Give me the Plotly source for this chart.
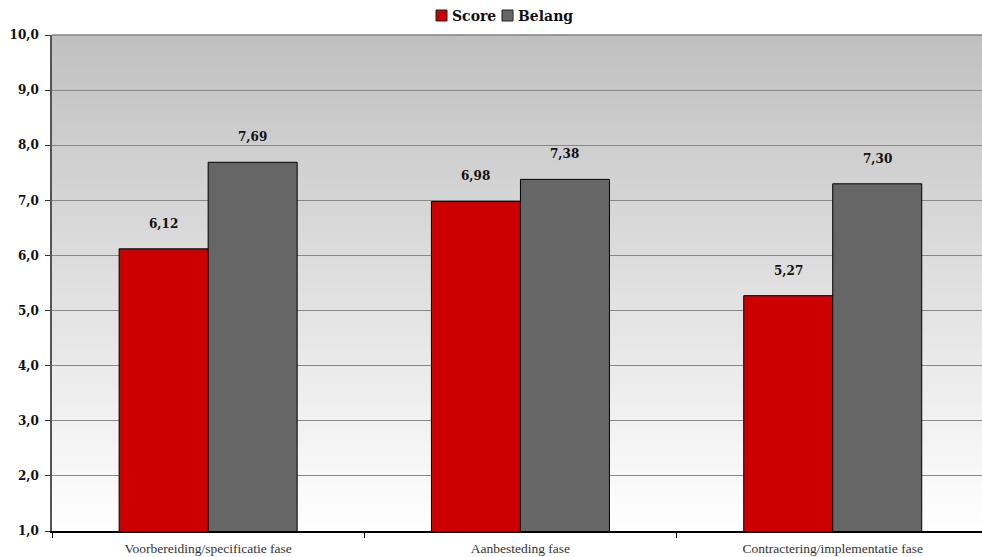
import plotly.graph_objects as go

# Phase scores vs. importance
phases = ["Voorbereiding/specificatie fase", "Aanbesteding fase", "Contractering/implementatie fase"]
score = [6.12, 6.98, 5.27]
belang = [7.69, 7.38, 7.30]
series_names = ["Score", "Belang"]
series_colors = ["#cc0000", "#666666"]

BOLD = "DejaVu Serif"
PLAIN = "Liberation Serif"

W, H = 982, 557
ML, MR, MT, MB = 52, 0, 35, 26
PW, PH = W - ML - MR, H - MT - MB


def px_to_paper(px, py):
    return (px - ML) / PW, (H - MB - py) / PH


fig = go.Figure()
for name, vals, col in zip(series_names, [score, belang], series_colors):
    fig.add_trace(go.Bar(
        x=phases, y=vals, name=name,
        marker=dict(color=col, line=dict(color="#000000", width=1)),
        hoverinfo="x+y", showlegend=False,
    ))

# value labels above each bar
bar_half = 44.5
for i, ph in enumerate(phases):
    for vals, shift in ((score, -bar_half), (belang, bar_half)):
        fig.add_annotation(
            x=ph, y=vals[i], xshift=shift, yshift=16,
            text=f"{vals[i]:.2f}".replace(".", ","),
            showarrow=False, yanchor="bottom",
            font=dict(family=BOLD, size=12, color="#111111", weight="bold"),
        )

# vertical grey-to-white gradient behind the plot area
n = 100
top_rgb, bot_rgb = (192, 192, 192), (255, 255, 255)
shapes = []
for k in range(n):
    t = (k + 0.5) / n
    c = [round(bot_rgb[j] + (top_rgb[j] - bot_rgb[j]) * t) for j in range(3)]
    shapes.append(dict(
        type="rect", xref="paper", yref="paper",
        x0=0, x1=1, y0=k / n, y1=min(1, (k + 2) / n),
        fillcolor=f"rgb({c[0]},{c[1]},{c[2]})", line=dict(width=0), layer="below",
    ))
shapes.append(dict(type="line", xref="paper", yref="paper", x0=0, x1=1, y0=1, y1=1,
                   line=dict(color="#808080", width=1.5), layer="above"))

# legend: bordered swatches followed by bold series names
legend_items = [(436, "Score"), (502, "Belang")]
sw = 11
for (lx, label), col in zip(legend_items, series_colors):
    x0, y0 = px_to_paper(lx, 21)
    x1, y1 = px_to_paper(lx + sw, 21 - sw)
    shapes.append(dict(type="rect", xref="paper", yref="paper", x0=x0, x1=x1, y0=y0, y1=y1,
                       fillcolor=col, line=dict(color="#222222", width=1)))
    tx, ty = px_to_paper(lx + sw + 3, 16)
    fig.add_annotation(x=tx, y=ty, xref="paper", yref="paper", text=label,
                       showarrow=False, xanchor="left", yanchor="middle",
                       font=dict(family=BOLD, size=14, color="#111111", weight="bold"))
fig.update_layout(shapes=shapes)

fig.update_layout(
    width=W, height=H,
    margin=dict(l=ML, r=MR, t=MT, b=MB, autoexpand=False),
    paper_bgcolor="#ffffff",
    plot_bgcolor="#ffffff",
    separators=",.",
    barmode="group", bargap=0.43, bargroupgap=0,
    showlegend=False,
    xaxis=dict(
        type="category", range=[-0.5, 2.478],
        tickson="boundaries", ticks="outside", ticklen=5, tickcolor="#000000",
        showline=True, linecolor="#000000", linewidth=1.5,
        showgrid=False,
        ticklabelstandoff=4,
        tickfont=dict(family=PLAIN, size=13.5, color="#333333"),
    ),
    yaxis=dict(
        range=[1, 10], dtick=1, tick0=1, tickformat=".1f",
        ticks="outside", ticklen=5, tickcolor="#333333",
        showline=True, linecolor="#555555", linewidth=1.5,
        showgrid=True, gridcolor="#888888", gridwidth=1,
        zeroline=False,
        ticklabelstandoff=4,
        tickfont=dict(family=BOLD, size=12, color="#111111", weight="bold"),
    ),
)

fig.write_html("out.html")
